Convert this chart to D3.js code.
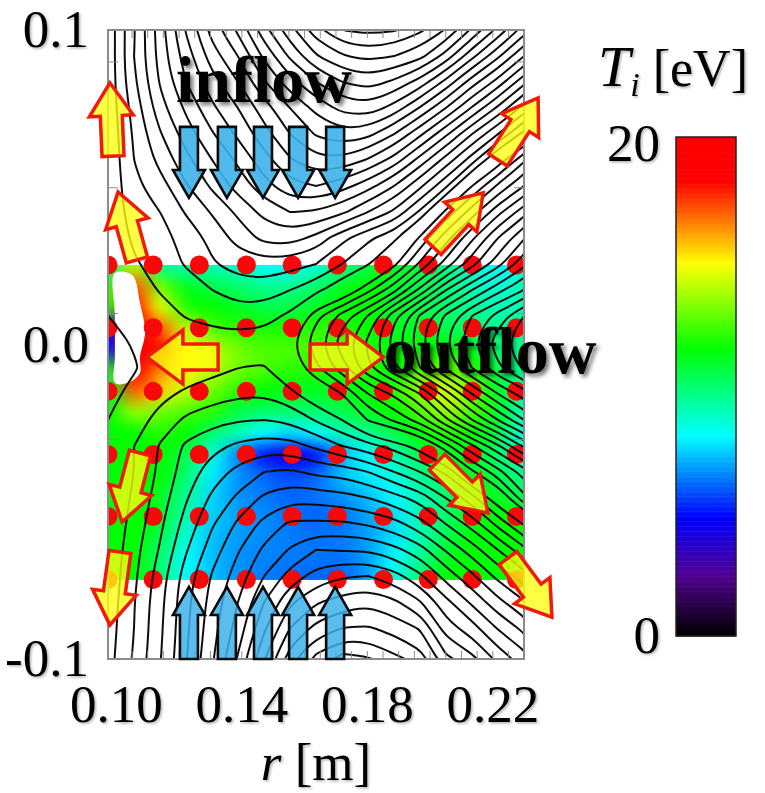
<!DOCTYPE html>
<html lang="en">

<head>
    <meta charset="utf-8">
    <title>Ti map with flux contours</title>
    <script src="https://cdnjs.cloudflare.com/ajax/libs/d3/7.8.5/d3.min.js"></script>
    <style type="text/css">
    body { margin: 0; background: white; }
    text { font-family: "Liberation Serif", serif; fill: black; }
    .tick text { font-family: "Liberation Serif", serif; }
    </style>
</head>

<body>
    <script type="text/javascript">
    // Axis ticks
    var rLabels = [0.10, 0.14, 0.18, 0.22];
    var zLabels = [0.1, 0.0, -0.1];
    var barLabels = [0, 20];
    var rMinor = [0.105, 0.11, 0.115, 0.12, 0.125, 0.13, 0.135, 0.14, 0.145, 0.15, 0.155, 0.16, 0.165, 0.17, 0.175, 0.18, 0.185, 0.19, 0.195, 0.20, 0.205, 0.21, 0.215, 0.22, 0.225];
    var zMinor = [0.09, 0.05, 0.01, -0.03, -0.07];

    // Colour bar
    var tiStops = [0, 2.4, 4.7, 8, 11.5, 14.9, 16.5, 18.2, 20];
    var tiColors = ["#000000", "#500090", "#0000ff", "#00ffff", "#00ff00", "#ffff00", "#ff8000", "#ff0000", "#ff0000"];

    // Ti [eV]: columns at tiR, rows at tiZ
    var tiR = [0.0975, 0.1058, 0.1141, 0.1224, 0.1307, 0.1389, 0.1472, 0.1555, 0.1638, 0.1721, 0.1804, 0.1887, 0.1970, 0.2052, 0.2135, 0.2218, 0.2301];
    var tiZ = [0.0253, 0.0186, 0.0119, 0.0052, -0.0015, -0.0081, -0.0148, -0.0215, -0.0282, -0.0348, -0.0415, -0.0482, -0.0549, -0.0615, -0.0682, -0.0749];
    var tiValues = [
        [9, 14, 9.5, 9, 9, 8.5, 8, 8, 8.5, 9.5, 10.5, 11, 10.5, 9.5, 8.5, 8, 8.5],
        [12, 17, 13, 11, 10.5, 10, 9.5, 9.5, 10, 11, 11.5, 11, 10.5, 10, 9, 8.5, 9],
        [12, 18, 14.5, 12, 11.5, 11, 10.5, 10.5, 11, 11.5, 11.5, 11, 10.5, 10, 9.5, 9, 9],
        [5, 19, 17, 14, 12.5, 12, 11.8, 11.8, 12, 12, 11.5, 11, 11, 10.5, 10, 9.5, 9.5],
        [5, 19, 18, 15, 14, 13, 12.5, 12.5, 12.5, 12.5, 12, 11.5, 11.5, 11.5, 11, 10, 9.5],
        [11, 19, 16.5, 15, 14, 13, 12.5, 12, 12, 12, 12, 11.5, 12.5, 13, 12, 10.5, 9.5],
        [11, 17, 15.5, 14, 13, 12, 11.5, 11, 11, 11, 11.5, 12, 13.5, 14.5, 13, 11, 9.5],
        [11.5, 13.5, 13, 12.5, 12, 10.5, 10, 10, 10, 10.5, 11, 11.5, 12.5, 13.5, 12.5, 11, 9],
        [11.5, 11.5, 12, 11.5, 10, 9, 8, 7.5, 8, 9, 9.5, 10.5, 11.5, 12, 11.5, 10.5, 8.5],
        [11.5, 11.5, 11.5, 10.5, 8.5, 6.5, 5, 4.2, 5, 7, 8, 9, 10.5, 11, 11, 10, 9],
        [11.5, 11.5, 11.5, 10, 7.8, 6.6, 6, 5.6, 6, 7.2, 7.8, 8.5, 9.5, 10.5, 11, 10.5, 9.5],
        [11.5, 11.5, 11, 9.5, 7.5, 6.6, 6.3, 6, 6.2, 6.6, 7.2, 8, 9, 10, 11, 11, 10.5],
        [11.5, 11.5, 11, 9, 7.4, 6.8, 6.5, 6.2, 6, 6.2, 6.8, 7.6, 9, 10, 11, 11.5, 11.5],
        [11.5, 11.5, 10.5, 8.5, 7.2, 6.7, 6.5, 6.3, 6.2, 6.3, 6.8, 7.6, 9, 10.5, 11.5, 11.5, 11.5],
        [11.5, 11.5, 10, 8, 7.2, 6.6, 6.4, 6.3, 6.2, 6.2, 6.8, 8, 9.5, 11, 11.5, 11.5, 11.5],
        [11.5, 11.5, 10, 8, 7.2, 6.6, 6.3, 6.1, 6, 6, 6.8, 8.3, 10, 11.5, 11.5, 11.5, 11.5]
    ];

    // Part of the map with no data
    var holeR = [0.0997, 0.1052, 0.1077, 0.1093, 0.1077, 0.1077, 0.1039, 0.0997, 0.0997, 0.0997];
    var holeZ = [0.0227, 0.0221, 0.0132, 0.0037, -0.0040, -0.0091, -0.0122, -0.0122, -0.0040, 0.0090];

    // Flux, counted in contour lines away from the X-point
    var fluxLevels = [-21, -20, -19, -18, -17, -16, -15, -14, -13, -12, -11, -10, -9, -8, -7, -6, -5, -4, -3, -2, -1, 1, 2, 3, 4, 5, 6, 7, 8, 9, 10, 11, 12, 13, 14, 15, 16, 17, 18, 19, 20];
    var fluxR = [0.0892, 0.0975, 0.1058, 0.1141, 0.1224, 0.1307, 0.1389, 0.1472, 0.1555, 0.1638, 0.1721, 0.1804, 0.1887, 0.1970, 0.2052, 0.2135, 0.2218, 0.2301, 0.2384];
    var fluxZ = [0.1083, 0.1000, 0.0917, 0.0835, 0.0752, 0.0669, 0.0587, 0.0504, 0.0421, 0.0339, 0.0256, 0.0173, 0.0091, 0.0008, -0.0075, -0.0157, -0.0240, -0.0323, -0.0405, -0.0488, -0.0571, -0.0653, -0.0736, -0.0819, -0.0901, -0.0984, -0.1067];
    var fluxValues = [
        [-.5, .3, 3, 5.7, 8.5, 11, 13.2, 16, 18, 20.3, 22, 22, 22, 22, 20, 18, 15.7, 13.5, 11.5],
        [-.5, .3, 2.9, 5.5, 8.1, 10.4, 12.2, 14.6, 16.6, 18.6, 20, 20.3, 20.1, 19.2, 17.9, 15.8, 13.7, 11.5, 9.5],
        [-.5, .3, 3, 5.4, 7.5, 9.5, 11, 13.2, 15.2, 16.9, 17.9, 18.3, 18, 17.3, 15.6, 13.3, 11.2, 9, 7],
        [-.5, .3, 2.8, 5.1, 7, 8.6, 10, 11.9, 13.6, 15, 16, 16.5, 15.8, 14.6, 12.7, 10.5, 8.6, 6.3, 4],
        [-.5, .3, 2.4, 4.6, 6.2, 7.8, 9, 10.5, 12, 13.3, 14.3, 14.6, 13.6, 11.9, 10, 7.9, 5.8, 3.6, 1.5],
        [-.5, .25, 2.15, 3.9, 5.5, 6.9, 8.2, 9.6, 11, 12.1, 12.7, 12.3, 11, 9.2, 7.2, 5, 3, .6, -2],
        [-.6, .2, 2, 3.3, 4.7, 6, 7.2, 8.6, 9.9, 10.8, 10.7, 9.9, 8.6, 6.6, 4.6, 2.5, -.3, -2.8, -5],
        [-.6, .2, 1.75, 2.6, 3.9, 5.2, 6.4, 7.6, 8.7, 9, 8.4, 7.4, 6, 4.2, 2.2, -1, -3.2, -5, -7],
        [-.6, .2, 1.5, 2, 3.1, 4.1, 5.2, 6.3, 7, 6.9, 6.2, 5, 3.8, 1.8, -1.3, -3.5, -5.7, -7.6, -10],
        [-.8, .1, 1.2, 1.6, 2.4, 3.3, 4.4, 5.3, 5.5, 4.7, 3.3, 2.2, 1.3, -1.2, -3.6, -5.8, -8, -9.9, -12],
        [-1.4, -.3, .85, 1.5, 2.1, 2.9, 3.4, 3.6, 3.4, 3, 2, 1.1, -.7, -3.2, -5.4, -7.6, -9.6, -11.7, -14],
        [-2, -.7, .3, 1.1, 1.5, 2, 2.5, 2.5, 2, 1.3, .2, -1.7, -3.7, -6.3, -9, -11, -12.7, -14, -16],
        [-2.5, -1, -.4, .4, 1.1, 1.35, 1.5, 1.4, .8, -1.7, -3.4, -5.1, -7.7, -10.2, -12.2, -14, -15.4, -17, -19],
        [-3, -1.9, -.8, -.3, .2, .5, .6, .5, -.8, -2.6, -4.5, -6.2, -8.5, -10.8, -13, -14.9, -16.5, -18, -20],
        [-3, -1.9, -1.2, -.1, .4, .7, 1, 1.1, -.1, -1.8, -3.6, -5.8, -7.8, -10, -12.2, -14, -15.8, -17.2, -19],
        [-2.8, -1.7, -.3, .7, 1.2, 1.5, 1.8, 1.9, 1.3, .2, -1, -3, -4.2, -6, -8.5, -11, -13, -14.5, -16.5],
        [-2, -1, .5, 1.4, 2.2, 2.7, 2.95, 3, 2.8, 1.9, 1, -1.1, -2.2, -3.5, -5.8, -8, -10, -12, -14],
        [-1.6, -.6, 1, 2.1, 3.2, 3.7, 4.2, 4.5, 4.4, 3.8, 3, 2.4, 1.6, .5, -1.6, -3.8, -5.8, -8.2, -10],
        [-1.2, -.2, 1, 2.2, 3.5, 4.5, 5.3, 6, 6.2, 5.7, 5.6, 5, 4, 3, 1.8, -.8, -2.6, -4.5, -6.5],
        [-1, 0, 1.2, 2.5, 3.9, 5.2, 6.2, 7.2, 7.7, 7.6, 7.4, 7, 6.4, 5.6, 4, 2.4, .2, -2.7, -4.7],
        [-.9, .1, 1.4, 2.8, 4.4, 5.9, 7.2, 8.3, 9.2, 9.2, 9.2, 8.9, 8.4, 7.4, 6, 4.6, 2.7, .9, -1.5],
        [-.8, .2, 1.65, 3.1, 4.9, 6.5, 7.9, 9.2, 10.1, 11, 10.9, 10.9, 10.3, 9.4, 7.9, 6.5, 5, 3.3, 1.3],
        [-.7, .3, 1.8, 3.5, 5.5, 7.1, 8.5, 10, 11.4, 12.4, 12.9, 13, 12.4, 11.2, 9.6, 8.2, 6.7, 5.5, 3.5],
        [-.6, .4, 1.95, 3.7, 5.7, 7.4, 9, 11, 12.8, 13.9, 14.4, 14.8, 14.2, 13.1, 11.3, 9.8, 8.3, 7.1, 5.1],
        [-.5, .5, 2, 3.8, 5.8, 7.6, 9.4, 11.8, 14, 15.3, 16, 16.1, 15.6, 14.9, 12.5, 11.4, 9.9, 8.7, 6.7],
        [-.5, .6, 2.1, 3.9, 5.9, 7.8, 10, 12.7, 15.3, 17, 18, 17.8, 17, 16.2, 14, 13, 11.4, 10.2, 8.2],
        [-.5, .7, 2.3, 4.1, 6.1, 8.1, 10.6, 13.6, 16.5, 18.7, 20, 20, 19, 18, 15.5, 14.5, 13, 11.5, 9.5]
    ];

    // Measurement points
    var probeR = [0.0975, 0.1119, 0.1266, 0.1416, 0.1562, 0.1706, 0.1853, 0.1996, 0.2136, 0.2277];
    var probeZ = [0.0253, 0.0053, -0.0149, -0.0350, -0.0547, -0.0747];

    // Blue arrows
    var inflowR = [0.1233, 0.1354, 0.1469, 0.1581, 0.1699];
    var inflowTop = [0.0692, 0.0466];
    var inflowBottom = [-0.1000, -0.0771];

    // Red and yellow arrows: base r, base z, tip r, tip z
    var outflowSmall = [
        [0.0991, 0.0599, 0.0981, 0.0832],
        [0.1067, 0.0269, 0.1007, 0.0485],
        [0.2011, 0.0310, 0.2171, 0.0482],
        [0.2218, 0.0587, 0.2346, 0.0784],
        [0.1077, -0.0345, 0.1020, -0.0564],
        [0.1013, -0.0660, 0.0981, -0.0892],
        [0.2024, -0.0374, 0.2186, -0.0536],
        [0.2250, -0.0679, 0.2390, -0.0867]
    ];
    var outflowBig = [
        [0.1326, -0.0040, 0.1099, -0.0040],
        [0.1619, -0.0040, 0.1852, -0.0040]
    ];

    var width = 765;
    var height = 793;

    var x = d3.scaleLinear().domain([0.0975, 0.2301]).range([108, 524]);
    var y = d3.scaleLinear().domain([-0.1, 0.1]).range([659, 30]);
    var color = d3.scaleLinear().domain(tiStops).range(tiColors);
    var barY = d3.scaleLinear().domain([0, 20]).range([636, 137]);

    var svg = d3.select("body")
        .append("svg")
        .attr("width", width)
        .attr("height", height)
        .style("display", "block");

    var defs = svg.append("defs");
    defs.append("clipPath").attr("id", "frame")
        .append("rect")
        .attr("x", x.range()[0])
        .attr("y", y.range()[1])
        .attr("width", x.range()[1] - x.range()[0])
        .attr("height", y.range()[0] - y.range()[1]);

    var soft = defs.append("filter").attr("id", "soft");
    soft.append("feGaussianBlur").attr("stdDeviation", 0.5);

    function addShadow(id, blur, dist, opacity) {
        var f = defs.append("filter").attr("id", id)
            .attr("x", "-10%").attr("y", "-10%").attr("width", "125%").attr("height", "130%");
        f.append("feDropShadow")
            .attr("dx", dist).attr("dy", dist)
            .attr("stdDeviation", blur)
            .attr("flood-color", "#000")
            .attr("flood-opacity", opacity);
    }
    addShadow("heavyShadow", 2, 3, 0.55);
    addShadow("lightShadow", 1, 1.5, 0.3);

    // Ti map: paint one pixel per value and let the canvas smooth it when scaling up
    var small = document.createElement("canvas");
    small.width = tiR.length;
    small.height = tiZ.length;
    var smallCtx = small.getContext("2d");
    tiValues.forEach(function(row, j) {
        row.forEach(function(v, i) {
            smallCtx.fillStyle = color(v);
            smallCtx.fillRect(i, j, 1, 1);
        });
    });

    var mapW = Math.round(x(tiR[tiR.length - 1]) - x(tiR[0]));
    var mapH = Math.round(y(tiZ[tiZ.length - 1]) - y(tiZ[0]));
    var big = document.createElement("canvas");
    big.width = mapW;
    big.height = mapH;
    var bigCtx = big.getContext("2d");
    bigCtx.imageSmoothingEnabled = true;
    bigCtx.imageSmoothingQuality = "high";
    bigCtx.drawImage(small, 0.5, 0.5, tiR.length - 1, tiZ.length - 1, 0, 0, mapW, mapH);

    var plot = svg.append("g").attr("clip-path", "url(#frame)");

    plot.append("image")
        .attr("x", x(tiR[0]))
        .attr("y", y(tiZ[0]))
        .attr("width", mapW)
        .attr("height", mapH)
        .attr("href", big.toDataURL());

    plot.append("path")
        .datum(holeR.map(function(r, i) { return [r, holeZ[i]]; }))
        .attr("d", d3.line()
            .x(function(d) { return x(d[0]); })
            .y(function(d) { return y(d[1]); })
            .curve(d3.curveCatmullRomClosed.alpha(0.5)))
        .attr("fill", "white");

    // Red points
    probeZ.forEach(function(z) {
        plot.selectAll(null)
            .data(probeR)
            .enter()
            .append("circle")
            .attr("cx", function(r) { return x(r); })
            .attr("cy", y(z))
            .attr("r", 9.5)
            .attr("fill", "#f80808");
    });

    // Flux contours
    var fluxX = d3.scaleLinear().domain(d3.range(fluxR.length)).range(fluxR);
    var fluxY = d3.scaleLinear().domain(d3.range(fluxZ.length)).range(fluxZ);
    var contours = d3.contours()
        .size([fluxR.length, fluxZ.length])
        .thresholds(fluxLevels)(d3.merge(fluxValues));

    var ring = d3.line()
        .x(function(d) { return x(fluxX(d[0] - 0.5)); })
        .y(function(d) { return y(fluxY(d[1] - 0.5)); })
        .curve(d3.curveBasisClosed);

    contours.forEach(function(c) {
        c.coordinates.forEach(function(polygon) {
            polygon.forEach(function(r) {
                plot.append("path")
                    .attr("d", ring(r))
                    .attr("fill", "none")
                    .attr("stroke", "#111")
                    .attr("stroke-width", 2)
                    .attr("filter", "url(#soft)");
            });
        });
    });

    // Frame and ticks
    var axisColor = "#8c8c8c";

    function styleAxis(g) {
        g.select(".domain").remove();
        g.selectAll("line").attr("stroke", axisColor).attr("stroke-width", 1);
    }

    svg.append("g")
        .attr("transform", "translate(0," + y.range()[0] + ")")
        .call(d3.axisBottom(x).tickValues(rMinor).tickSize(-8).tickFormat(""))
        .call(styleAxis);
    svg.append("g")
        .attr("transform", "translate(0," + y.range()[1] + ")")
        .call(d3.axisTop(x).tickValues(rMinor).tickSize(-8).tickFormat(""))
        .call(styleAxis);
    svg.append("g")
        .attr("transform", "translate(" + x.range()[0] + ",0)")
        .call(d3.axisLeft(y).tickValues(zMinor).tickSize(-10).tickFormat(""))
        .call(styleAxis);
    svg.append("g")
        .attr("transform", "translate(" + x.range()[1] + ",0)")
        .call(d3.axisRight(y).tickValues(zMinor).tickSize(-10).tickFormat(""))
        .call(styleAxis);

    svg.append("rect")
        .attr("x", x.range()[0])
        .attr("y", y.range()[1])
        .attr("width", x.range()[1] - x.range()[0])
        .attr("height", y.range()[0] - y.range()[1])
        .attr("fill", "none")
        .attr("stroke", axisColor)
        .attr("stroke-width", 2);

    // Builds an arrow outline from base to tip, in pixels
    function arrowPath(x0, y0, x1, y1, shaft, head, headLength) {
        var len = Math.sqrt((x1 - x0) * (x1 - x0) + (y1 - y0) * (y1 - y0));
        var ux = (x1 - x0) / len;
        var uy = (y1 - y0) / len;
        var nx = -uy;
        var ny = ux;
        var hx = x1 - ux * headLength;
        var hy = y1 - uy * headLength;
        var p = d3.path();
        p.moveTo(x0 + nx * shaft, y0 + ny * shaft);
        p.lineTo(hx + nx * shaft, hy + ny * shaft);
        p.lineTo(hx + nx * head, hy + ny * head);
        p.lineTo(x1, y1);
        p.lineTo(hx - nx * head, hy - ny * head);
        p.lineTo(hx - nx * shaft, hy - ny * shaft);
        p.lineTo(x0 - nx * shaft, y0 - ny * shaft);
        p.closePath();
        return p.toString();
    }

    // Blue arrows
    svg.selectAll(".down")
        .data(inflowR)
        .enter()
        .append("path")
        .attr("class", "down")
        .attr("d", function(r) {
            return arrowPath(x(r), y(inflowTop[0]), x(r), y(inflowTop[1]), 9, 16, 28);
        })
        .attr("fill", "#3db2ea")
        .attr("fill-opacity", 0.9)
        .attr("stroke", "#0a0a0a")
        .attr("stroke-width", 2.6);

    svg.selectAll(".up")
        .data(inflowR)
        .enter()
        .append("path")
        .attr("class", "up")
        .attr("d", function(r) {
            return arrowPath(x(r), y(inflowBottom[0]), x(r), y(inflowBottom[1]), 9, 16, 28);
        })
        .attr("fill", "#3db2ea")
        .attr("fill-opacity", 0.85)
        .attr("stroke", "#0a0a0a")
        .attr("stroke-width", 2.6);

    // Yellow arrows
    function drawOutflow(list, shaft, head, headLength) {
        svg.selectAll(null)
            .data(list)
            .enter()
            .append("path")
            .attr("d", function(d) {
                return arrowPath(x(d[0]), y(d[1]), x(d[2]), y(d[3]), shaft, head, headLength);
            })
            .attr("fill", "#ffff10")
            .attr("fill-opacity", 0.78)
            .attr("stroke", "#f01a0a")
            .attr("stroke-width", 3.5);
    }
    drawOutflow(outflowSmall, 11, 22, 33);
    drawOutflow(outflowBig, 13, 27, 36);

    // Labels
    var labelSize = 53;

    var xLabels = svg.append("g")
        .attr("transform", "translate(0,690)")
        .call(d3.axisBottom(x).tickValues(rLabels).tickSize(0).tickFormat(d3.format(".2f")));
    xLabels.select(".domain").remove();
    xLabels.selectAll("text")
        .attr("font-size", labelSize)
        .attr("dy", "0.71em")
        .attr("y", -6)
        .attr("fill", "black")
        .attr("filter", "url(#lightShadow)");

    var yLabels = svg.append("g")
        .attr("transform", "translate(92,0)")
        .call(d3.axisLeft(y).tickValues(zLabels).tickSize(0).tickFormat(function(d) {
            return d3.format(".1f")(d).replace("\u2212", "-");
        }));
    yLabels.select(".domain").remove();
    yLabels.selectAll("text")
        .attr("font-size", labelSize)
        .attr("x", -3)
        .attr("fill", "black")
        .attr("filter", "url(#lightShadow)");

    var rTitle = svg.append("text")
        .attr("x", 316)
        .attr("y", 780)
        .attr("text-anchor", "middle")
        .attr("font-size", labelSize)
        .attr("filter", "url(#lightShadow)");
    rTitle.append("tspan").attr("font-style", "italic").text("r");
    rTitle.append("tspan").text(" [m]");

    svg.append("text")
        .attr("x", 264)
        .attr("y", 102)
        .attr("text-anchor", "middle")
        .attr("font-size", 66)
        .attr("font-weight", "bold")
        .attr("filter", "url(#heavyShadow)")
        .text("inflow");

    svg.append("text")
        .attr("x", 490)
        .attr("y", 373)
        .attr("text-anchor", "middle")
        .attr("font-size", 66)
        .attr("font-weight", "bold")
        .attr("filter", "url(#heavyShadow)")
        .text("outflow");

    // Colour bar
    svg.append("g")
        .selectAll("rect")
        .data(d3.range(0, 20, 0.1))
        .enter()
        .append("rect")
        .attr("x", 676)
        .attr("y", function(d) { return barY(d + 0.1); })
        .attr("width", 60)
        .attr("height", function(d) { return barY(d) - barY(d + 0.1) + 0.5; })
        .attr("fill", function(d) { return color(d); });

    svg.append("rect")
        .attr("x", 676)
        .attr("y", barY(20))
        .attr("width", 60)
        .attr("height", barY(0) - barY(20))
        .attr("fill", "none")
        .attr("stroke", "#222")
        .attr("stroke-width", 1.5);

    var barAxis = svg.append("g")
        .attr("transform", "translate(662,0)")
        .call(d3.axisLeft(barY).tickValues(barLabels).tickSize(0));
    barAxis.select(".domain").remove();
    barAxis.selectAll("text")
        .attr("font-size", labelSize)
        .attr("x", -2)
        .attr("y", function(d) { return d === 20 ? 7 : 0; })
        .attr("fill", "black")
        .attr("filter", "url(#lightShadow)");

    var tiTitle = svg.append("text")
        .attr("x", 598)
        .attr("y", 86)
        .attr("font-size", 52)
        .attr("filter", "url(#lightShadow)");
    tiTitle.append("tspan").attr("font-style", "italic").attr("font-size", 58).text("T");
    tiTitle.append("tspan").attr("font-style", "italic").attr("font-size", 34).attr("dy", 10).text("i");
    tiTitle.append("tspan").attr("dy", -10).text(" [eV]");
    </script>
</body>

</html>
